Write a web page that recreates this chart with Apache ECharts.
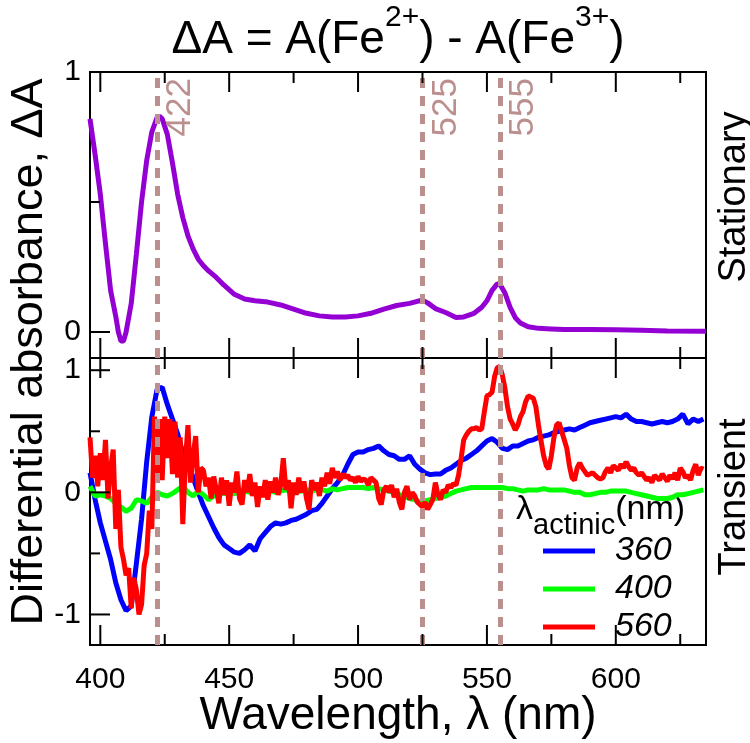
<!DOCTYPE html>
<html>
<head>
<meta charset="utf-8">
<script src="https://cdn.jsdelivr.net/npm/echarts@6/dist/echarts.min.js"></script>
<style>
html, body { margin: 0; padding: 0; background: #fff; }
#chart { width: 750px; height: 743px; background: #fff; }
</style>
</head>
<body>
<div id="chart"></div>
<script>
var FONT = 'Liberation Sans';

// stationary spectrum (top panel)
var wlStationary = [396, 398, 400, 402, 404, 406, 407, 408, 409, 410, 412, 414, 416, 418, 420, 422, 423, 424, 426, 428,
	430, 432, 434, 436, 438, 440, 442, 445, 448, 452, 456, 460, 465, 470, 475, 480, 485, 490, 495, 500,
	505, 510, 515, 520, 523, 525, 527, 530, 534, 538, 541, 545, 548, 550, 552, 554, 555, 557, 559, 561,
	563, 566, 570, 575, 580, 590, 600, 610, 620, 635];
var absStationary = [0.82, 0.68, 0.53, 0.34, 0.16, 0.06, 0.0, -0.035, -0.035, 0.0, 0.11, 0.30, 0.50, 0.66, 0.77, 0.825, 0.83, 0.82, 0.76, 0.65,
	0.53, 0.44, 0.37, 0.32, 0.28, 0.255, 0.235, 0.21, 0.18, 0.145, 0.127, 0.12, 0.115, 0.104, 0.088, 0.072, 0.062, 0.058, 0.058, 0.062,
	0.072, 0.088, 0.102, 0.11, 0.118, 0.122, 0.112, 0.09, 0.075, 0.056, 0.058, 0.072, 0.095, 0.12, 0.16, 0.185, 0.185, 0.15, 0.095, 0.055,
	0.035, 0.02, 0.014, 0.012, 0.01, 0.01, 0.009, 0.007, 0.004, 0.003];

// transient spectra (bottom panel), 360 and 400 nm sampled every 2 nm from 396
var wl2Start = 396, wl2Step = 2;
var trans360 = [
	0.16, -0.06, -0.25, -0.40, -0.55, -0.74, -0.88, -0.97, -0.93, -0.58,
	-0.22, 0.25, 0.62, 0.84, 0.86, 0.72, 0.6, 0.48, 0.32, 0.24,
	0.12, 0.0, -0.11, -0.2, -0.29, -0.37, -0.43, -0.46, -0.49, -0.5,
	-0.47, -0.43, -0.48, -0.38, -0.33, -0.28, -0.25, -0.26, -0.25, -0.23,
	-0.22, -0.2, -0.18, -0.15, -0.14, -0.09, -0.03, 0.03, 0.08, 0.14,
	0.23, 0.31, 0.33, 0.33, 0.35, 0.36, 0.38, 0.34, 0.31, 0.3,
	0.27, 0.27, 0.3, 0.23, 0.19, 0.16, 0.145, 0.15, 0.15, 0.18,
	0.2, 0.23, 0.26, 0.28, 0.31, 0.34, 0.38, 0.42, 0.44, 0.41,
	0.36, 0.35, 0.38, 0.38, 0.4, 0.42, 0.43, 0.45, 0.46, 0.47,
	0.49, 0.5, 0.51, 0.52, 0.51, 0.53, 0.55, 0.57, 0.58, 0.59,
	0.6, 0.61, 0.62, 0.61, 0.64, 0.6, 0.58, 0.58, 0.57, 0.56,
	0.57, 0.58, 0.57, 0.58, 0.6, 0.64, 0.56, 0.6, 0.58, 0.6];
var trans400 = [
	0.05, -0.03, -0.02, -0.03, -0.05, -0.09, -0.12, -0.155, -0.13, -0.06,
	-0.07, -0.09, -0.04, 0.0, -0.02, -0.03, -0.01, 0.02, 0.05, 0.0,
	-0.03, 0.01, -0.02, -0.06, -0.03, 0.0, -0.01, 0.0, -0.01, 0.0,
	0.01, 0.0, -0.01, 0.01, 0.0, 0.01, 0.0, 0.01, 0.02, 0.01,
	0.0, 0.01, 0.02, 0.01, 0.02, 0.02, 0.01, 0.03, 0.02, 0.03,
	0.04, 0.04, 0.04, 0.04, 0.03, 0.04, 0.03, 0.02, 0.01, 0.0,
	-0.02, -0.03, -0.05, -0.06, -0.08, -0.07, -0.06, -0.05, -0.04, -0.03,
	-0.01, 0.01, 0.02, 0.03, 0.04, 0.04, 0.04, 0.04, 0.04, 0.04,
	0.04, 0.03, 0.03, 0.02, 0.01, 0.02, 0.02, 0.02, 0.03, 0.02,
	0.02, 0.02, 0.02, 0.01, 0.0, 0.0, -0.02, -0.02, -0.01, 0.0,
	0.0, 0.01, 0.01, 0.01, 0.01, 0.0, -0.01, -0.02, -0.03, -0.04,
	-0.05, -0.05, -0.05, -0.04, -0.02, -0.02, -0.01, 0.0, 0.01, 0.02];
// 560 nm sampled every 1 nm from 396
var wl1Start = 396, wl1Step = 1;
var trans560 = [
	0.45, 0.12, 0.3, 0.05,
	0.32, 0.1, 0.43, -0.05, 0.2, 0.35, -0.3, 0.02, -0.45, -0.55,
	-0.68, -0.62, -0.95, -0.7, -0.8, -1.0, -0.92, -0.6, -0.5, -0.15,
	-0.3, 0.62, 0.12, 0.6, 0.1, 0.62, 0.28, 0.6, 0.15, 0.58,
	0.12, 0.45, -0.26, 0.25, 0.55, 0.08, 0.3, 0.46, 0.0, 0.2,
	0.18, 0.05, 0.12, -0.05, 0.13, 0.02, -0.09, 0.12, -0.02, 0.1,
	-0.11, 0.08, 0.0, 0.17, -0.05, -0.1, 0.1, 0.0, 0.15, -0.03,
	0.08, -0.12, 0.05, -0.04, 0.1, -0.06, 0.09, 0.0, 0.12, -0.02,
	0.06, 0.28, 0.02, 0.1, -0.13, 0.08, -0.02, 0.12, 0.0, 0.09,
	-0.05, -0.14, 0.1, 0.02, 0.08, -0.03, 0.12, 0.05, 0.16, 0.07,
	0.2, 0.12, 0.17, 0.1, 0.15, 0.12, 0.14, 0.1, 0.12, 0.08,
	0.13, 0.09, 0.11, 0.1, 0.06, 0.12, 0.1, 0.08, -0.05, -0.1,
	0.02, 0.05, 0.0, 0.06, -0.04, 0.03, -0.08, -0.14, 0.0, 0.05,
	-0.06, 0.0, -0.03, -0.08, -0.1, -0.12, -0.08, -0.14, -0.1, -0.06,
	0.08, -0.02, -0.06, 0.02, 0.0, 0.06, 0.04, 0.07, 0.06, 0.14,
	0.28, 0.43, 0.47, 0.5, 0.52, 0.52, 0.53, 0.51, 0.52, 0.66,
	0.79, 0.8, 0.82, 0.95, 1.02, 1.03, 0.96, 0.85, 0.7, 0.6,
	0.56, 0.51, 0.55, 0.62, 0.66, 0.74, 0.79, 0.78, 0.77, 0.7,
	0.55, 0.42, 0.3, 0.22, 0.19, 0.3, 0.45, 0.55, 0.57, 0.5,
	0.43, 0.36, 0.22, 0.12, 0.1, 0.2, 0.24, 0.2, 0.17, 0.14,
	0.15, 0.16, 0.14, 0.12, 0.11, 0.12, 0.17, 0.2, 0.16, 0.22,
	0.2, 0.18, 0.23, 0.2, 0.25, 0.21, 0.18, 0.2, 0.16, 0.14,
	0.16, 0.13, 0.1, 0.12, 0.08, 0.14, 0.12, 0.1, 0.15, 0.12,
	0.09, 0.14, 0.11, 0.16, 0.1, 0.2, 0.17, 0.12, 0.14, 0.1,
	0.18, 0.23, 0.14, 0.2, 0.19];

var seriesNames = ['360', '400', '560'];
var seriesColors = ['#0000ff', '#00ff00', '#ff0000'];
var markerWl = [422, 525, 555];
var xMin = 396, xMax = 635;
var topYMin = -0.1, topYMax = 1;
var botYMin = -1.25, botYMax = 1.1;

// tick positions
var majorX = [400, 450, 500, 550, 600];
var minorX = [425, 475, 525, 575, 625];
var topMajorY = [0, 1], topMinorY = [0.5];
var botMajorY = [-1, 0, 1], botMinorY = [-0.5, 0.5];

function sampled(start, step, ys) {
	return ys.map(function (y, i) { return [start + i * step, y]; });
}
function pairs(xs, ys) {
	return ys.map(function (y, i) { return [xs[i], y]; });
}
function tickData(major, minor) {
	return major.map(function (v) { return [v, 1]; }).concat(minor.map(function (v) { return [v, 0]; }));
}

function xAxisOf(grid, labels) {
	return {
		type: 'value', gridIndex: grid, min: xMin, max: xMax,
		axisLine: { show: false, onZero: false }, axisTick: { show: false }, splitLine: { show: false },
		axisLabel: labels ? { show: true, customValues: majorX, margin: 20, fontSize: 30, color: '#000', fontFamily: FONT } : { show: false }
	};
}
function yAxisOf(grid, min, max, labels) {
	return {
		type: 'value', gridIndex: grid, min: min, max: max,
		axisLine: { show: false, onZero: false }, axisTick: { show: false }, splitLine: { show: false },
		axisLabel: { show: true, customValues: labels, margin: 9, fontSize: 30, color: '#000', fontFamily: FONT }
	};
}

// inward ticks on the bottom and top edge of a panel, placed through the axis scale
function xTickSeries(gi, yMin, yMax) {
	return {
		type: 'custom', xAxisIndex: gi, yAxisIndex: gi, silent: true, z: 5,
		data: tickData(majorX, minorX),
		renderItem: function (params, api) {
			var v = api.value(0), len = api.value(1) ? 20 : 11;
			var b = api.coord([v, yMin]), t = api.coord([v, yMax]);
			var st = { stroke: '#000', lineWidth: 2 };
			return { type: 'group', children: [
				{ type: 'line', shape: { x1: b[0], y1: b[1], x2: b[0], y2: b[1] - len }, style: st },
				{ type: 'line', shape: { x1: t[0], y1: t[1], x2: t[0], y2: t[1] + len }, style: st }
			] };
		}
	};
}
// inward ticks on the left edge of a panel
function yTickSeries(gi, major, minor) {
	return {
		type: 'custom', xAxisIndex: gi, yAxisIndex: gi, silent: true, z: 5,
		data: tickData(major, minor),
		renderItem: function (params, api) {
			var v = api.value(0), len = api.value(1) ? 20 : 10;
			var p = api.coord([xMin, v]);
			return { type: 'line', shape: { x1: p[0], y1: p[1], x2: p[0] + len, y2: p[1] }, style: { stroke: '#000', lineWidth: 2 } };
		}
	};
}

function guide(gi, withLabel) {
	return {
		name: 'guide' + gi, type: 'line', xAxisIndex: gi, yAxisIndex: gi, data: [], z: 1,
		markLine: {
			symbol: 'none', silent: true,
			lineStyle: { color: '#bc8f8f', width: 5, type: [10, 8] },
			label: withLabel ? {
				show: true, position: 'insideEndBottom', formatter: '{c}', distance: 6,
				color: '#bc8f8f', fontSize: 35, fontFamily: FONT
			} : { show: false },
			data: markerWl.map(function (w) { return { xAxis: w }; })
		}
	};
}

function curve(name, gi, data, color) {
	return {
		name: name, type: 'line', xAxisIndex: gi, yAxisIndex: gi, data: data,
		symbol: 'none', smooth: false,
		lineStyle: { color: color, width: 5 }, itemStyle: { color: color }
	};
}

var option = {
	animation: false,
	grid: [
		{ left: 90, top: 72, width: 616, height: 286, show: true, borderColor: '#000', borderWidth: 2 },
		{ left: 90, top: 358, width: 616, height: 287, show: true, borderColor: '#000', borderWidth: 2 }
	],
	xAxis: [xAxisOf(0, false), xAxisOf(1, true)],
	yAxis: [yAxisOf(0, topYMin, topYMax, topMajorY), yAxisOf(1, botYMin, botYMax, botMajorY)],
	legend: {
		data: seriesNames, orient: 'vertical', left: 538, top: 529,
		icon: 'rect', itemWidth: 52, itemHeight: 5, itemGap: 4,
		selectedMode: false,
		textStyle: { fontSize: 34, fontStyle: 'italic', color: '#000', fontFamily: FONT, padding: [0, 0, 0, 15] }
	},
	graphic: [
		{
			type: 'text', x: 398, y: 40,
			style: {
				text: '{m|ΔA = A(Fe}{s|2+}{m|) - A(Fe}{s|3+}{m|)}',
				align: 'center', verticalAlign: 'middle', fill: '#000',
				rich: {
					m: { fontSize: 46, fontFamily: FONT, lineHeight: 74 },
					s: { fontSize: 30, fontFamily: FONT, verticalAlign: 'top', lineHeight: 74 }
				}
			}
		},
		{
			type: 'text', x: 30, y: 352, rotation: Math.PI / 2,
			style: { text: 'Differential absorbance, ΔA', fontSize: 45, fontFamily: FONT, fill: '#000', align: 'center', verticalAlign: 'middle' }
		},
		{
			type: 'text', x: 398, y: 716,
			style: { text: 'Wavelength, λ (nm)', fontSize: 46, fontFamily: FONT, fill: '#000', align: 'center', verticalAlign: 'middle' }
		},
		{
			type: 'text', x: 735, y: 197, rotation: Math.PI / 2,
			style: { text: 'Stationary', fontSize: 38, fontFamily: FONT, fill: '#000', align: 'center', verticalAlign: 'middle' }
		},
		{
			type: 'text', x: 735, y: 497, rotation: Math.PI / 2,
			style: { text: 'Transient', fontSize: 38, fontFamily: FONT, fill: '#000', align: 'center', verticalAlign: 'middle' }
		},
		{
			type: 'text', x: 516, y: 510,
			style: {
				text: '{l|λ}{s|actinic}{l|(nm)}',
				align: 'left', verticalAlign: 'middle', fill: '#000',
				rich: {
					l: { fontSize: 34, fontFamily: FONT, lineHeight: 60 },
					s: { fontSize: 29, fontFamily: FONT, verticalAlign: 'bottom', lineHeight: 60 }
				}
			}
		}
	],
	series: [
		guide(0, true),
		guide(1, false),
		curve('stationary', 0, pairs(wlStationary, absStationary), '#9400d3'),
		curve(seriesNames[0], 1, sampled(wl2Start, wl2Step, trans360), seriesColors[0]),
		curve(seriesNames[1], 1, sampled(wl2Start, wl2Step, trans400), seriesColors[1]),
		curve(seriesNames[2], 1, sampled(wl1Start, wl1Step, trans560), seriesColors[2]),
		xTickSeries(0, topYMin, topYMax),
		xTickSeries(1, botYMin, botYMax),
		yTickSeries(0, topMajorY, topMinorY),
		yTickSeries(1, botMajorY, botMinorY)
	]
};

var chart = echarts.init(document.getElementById('chart'));
chart.setOption(option);
window.onresize = chart.resize;
</script>
</body>
</html>
